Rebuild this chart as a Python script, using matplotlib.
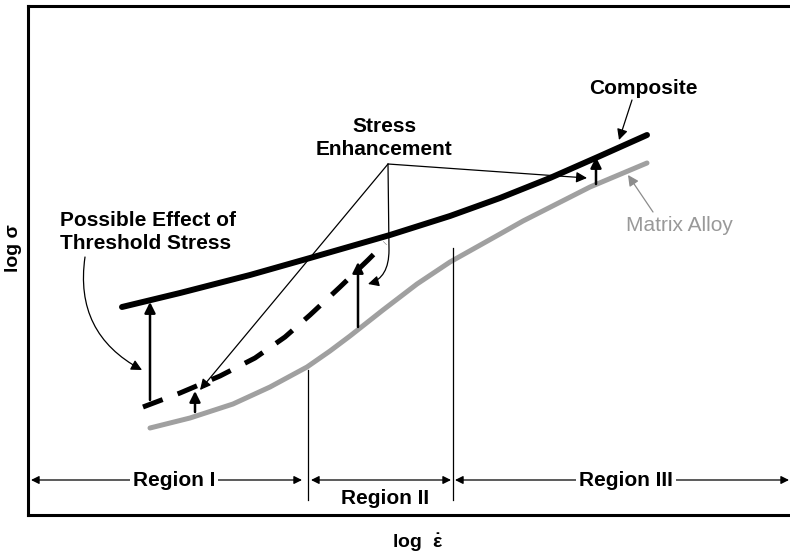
import matplotlib.pyplot as plt
from matplotlib.patches import FancyArrowPatch
from matplotlib.path import Path

plt.rcParams['font.family'] = ['Liberation Sans', 'DejaVu Sans']
plt.rcParams['font.weight'] = 'bold'
plt.rcParams['mathtext.fontset'] = 'custom'
plt.rcParams['mathtext.rm'] = 'Liberation Sans:bold'
plt.rcParams['mathtext.it'] = 'Liberation Sans:bold'
plt.rcParams['mathtext.bf'] = 'Liberation Sans:bold'

# schematic curves (arbitrary log units)
comp_x = [122, 180, 250, 310, 390, 450, 500, 550, 600, 647]
comp_y = [249, 263, 281, 298, 321, 340, 358, 378, 400, 421]

matrix_x = [150, 190, 233, 270, 307, 330, 350, 383, 417, 450, 500, 523, 590, 647]
matrix_y = [128, 138, 152, 169, 189, 205, 220, 246, 272, 294, 322, 335, 369, 393]

thresh_x = [143, 180, 220, 255, 285, 310, 340, 368, 385]
thresh_y = [149, 163, 180, 198, 219, 241, 269, 296, 313]

# stress enhancement arrows: x, from, to
enh_arrows = [(150, 156, 254), (195, 144, 165), (358, 229, 294), (596, 372, 399)]

# region boundaries
bounds_x = [308, 453]
bounds_top = [186, 308]
regions = ['Region I', 'Region II', 'Region III']
region_spans = [(31, 302), (311, 451), (455, 789)]

fig = plt.figure(figsize=(7.9, 5.56), dpi=100)
ax = fig.add_axes([28 / 790, 41 / 556, 762 / 790, 509 / 556])
ax.set_xlim(28, 790)
ax.set_ylim(41, 550)
ax.set_xticks([])
ax.set_yticks([])
for s in ['left', 'top', 'bottom']:
    ax.spines[s].set_linewidth(2.2)
ax.spines['right'].set_visible(False)

ax.plot(comp_x, comp_y, color='k', lw=4.3, solid_capstyle='round',
        solid_joinstyle='round')
ax.plot(matrix_x, matrix_y, color='#a0a0a0', lw=3.6, solid_capstyle='round',
        solid_joinstyle='round')
ax.plot(thresh_x, thresh_y, color='k', lw=3.6, dashes=(4.2, 3.2),
        dash_capstyle='butt', dash_joinstyle='round')

for x, y0, y1 in enh_arrows:
    ax.annotate('', xy=(x, y1), xytext=(x, y0),
                arrowprops=dict(arrowstyle='-|>', color='k', lw=1.8,
                                mutation_scale=16, shrinkA=0, shrinkB=0))

thin = dict(arrowstyle='-|>', color='k', lw=0.9, mutation_scale=16, shrinkA=0, shrinkB=0)

# region boundaries and spans
for x, top in zip(bounds_x, bounds_top):
    ax.plot([x, x], [top, 56], color='k', lw=0.9)
for (x0, x1), name in zip(region_spans, regions):
    ax.annotate('', xy=(x1, 76), xytext=(x0, 76),
                arrowprops=dict(arrowstyle='<|-|>', color='k', lw=0.9,
                                mutation_scale=12, shrinkA=0, shrinkB=0))
ax.text(174, 75, 'Region I', fontsize=15, ha='center', va='center',
        bbox=dict(facecolor='white', edgecolor='none', pad=2))
ax.text(385, 58, 'Region II', fontsize=15, ha='center', va='center')
ax.text(626, 76, 'Region III', fontsize=15, ha='center', va='center',
        bbox=dict(facecolor='white', edgecolor='none', pad=2))

# labels
ax.text(643, 468, 'Composite', fontsize=15, ha='center', va='center')
ax.annotate('', xy=(619, 416), xytext=(632, 456), arrowprops=thin)

ax.text(679, 331, 'Matrix Alloy', fontsize=15, fontweight='normal',
        color='#999999', ha='center', va='center')
ax.annotate('', xy=(628, 381), xytext=(653, 344),
            arrowprops=dict(thin, color='#8c8c8c'))

ax.text(60, 324, 'Possible Effect of\nThreshold Stress', fontsize=15,
        ha='left', va='center', linespacing=1.3)
ax.annotate('', xy=(142, 186), xytext=(85, 299),
            arrowprops=dict(thin, connectionstyle='arc3,rad=0.35'))

ax.text(384, 418, 'Stress\nEnhancement', fontsize=15, ha='center',
        va='center', linespacing=1.3)
ax.annotate('', xy=(200, 166), xytext=(388, 392), arrowprops=thin)
ax.annotate('', xy=(587, 378), xytext=(388, 392), arrowprops=thin)
hook = Path([(388, 392), (389, 306), (389, 278), (368, 272)],
            [Path.MOVETO, Path.LINETO, Path.CURVE3, Path.CURVE3])
ax.add_patch(FancyArrowPatch(path=hook, arrowstyle='-|>', color='k',
                             lw=0.9, mutation_scale=16))

fig.text(13 / 790, 1 - 248 / 556, 'log σ', rotation=90, fontsize=14,
         ha='center', va='center')
fig.text(418 / 790, 1 - 543 / 556, r'log  $\dot{\varepsilon}$', fontsize=14,
         ha='center', va='center')

fig.savefig('out.png', dpi=100)
